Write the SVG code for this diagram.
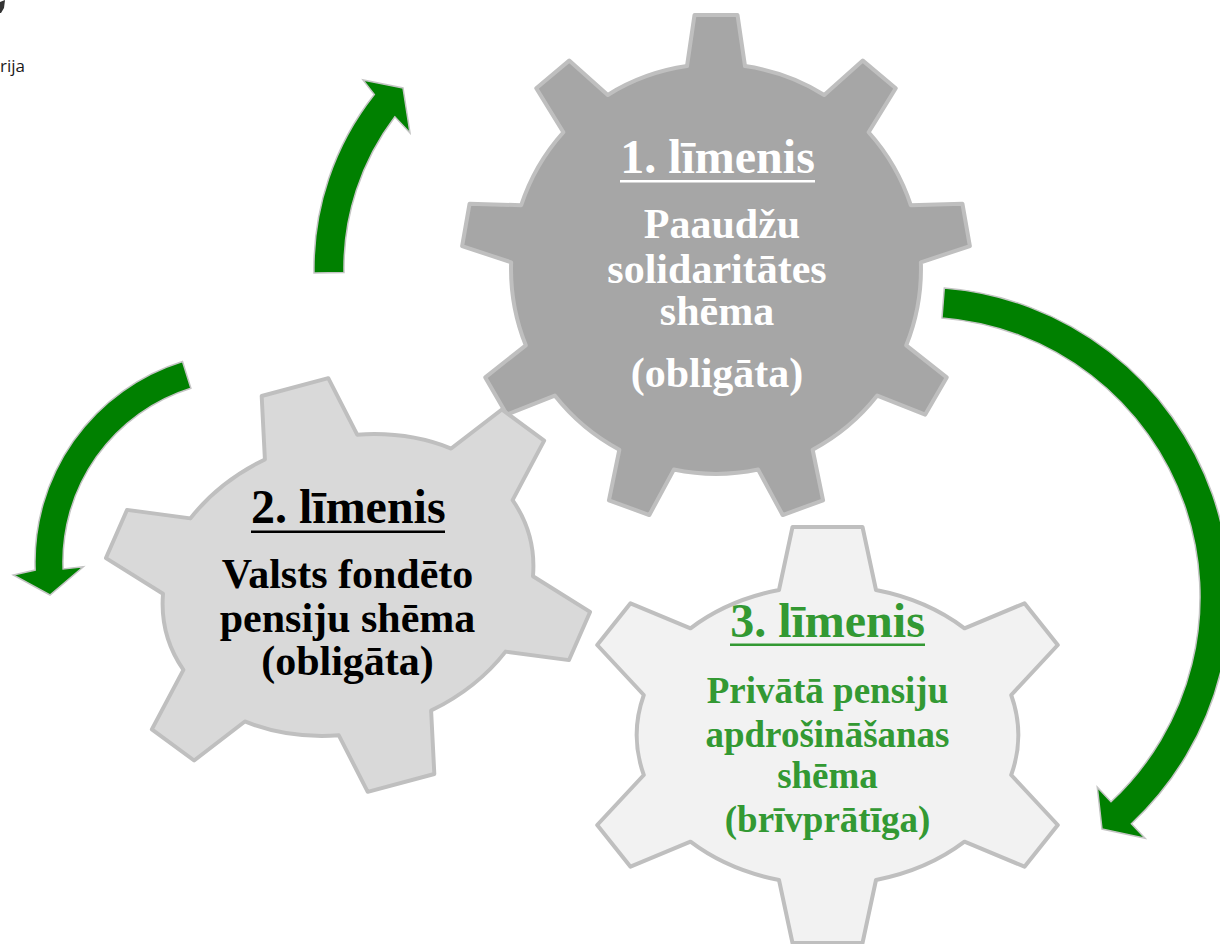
<svg xmlns="http://www.w3.org/2000/svg" width="1220" height="944" viewBox="0 0 1220 944">
<defs>
<style>
.gear{stroke:#bfbfbf;stroke-width:4;stroke-linejoin:round}
.g1{fill:#a6a6a6}.g2{fill:#d9d9d9}.g3{fill:#f2f2f2}
.arrow{fill:#008000;stroke:#c4c4c4;stroke-width:1.5}
.t{font-family:"Liberation Serif","Times New Roman",serif;font-weight:bold;text-anchor:middle}
.h{font-size:48px}.b{font-size:42px}.s{font-size:37px}
.w{fill:#ffffff}.k{fill:#000000}.gr{fill:#339933}
.ul{stroke-width:2.6}
</style>
<path id="gear6" d="M -48.5,-145 L -35,-208 L 35,-208 L 48.5,-145 A 194 150 0 0 1 137,-106.7 L 197,-131.7 L 230.3,-90 L 183.7,-40 A 194 150 0 0 1 183.7,40 L 230.3,90 L 197,131.7 L 137,106.7 A 194 150 0 0 1 48.5,145 L 35,208 L -35,208 L -48.5,145 A 194 150 0 0 1 -137,106.7 L -197,131.7 L -230.3,90 L -183.7,40 A 194 150 0 0 1 -183.7,-40 L -230.3,-90 L -197,-131.7 L -137,-106.7 A 194 150 0 0 1 -48.5,-145 Z"/>
</defs>
<rect width="1220" height="944" fill="#ffffff"/>
<g id="header">
<path d="M0,2 L5,0 L4,8 L1,13 L0,13 Z" fill="#333333"/>
<text x="25" y="71.5" font-family="Open Sans, sans-serif" font-size="17" fill="#1a1a1a" text-anchor="end">rija</text>
</g>
<g id="connectors">
<path class="arrow" d="M 314,272.9 A 280 280 0 0 1 374.3,94.5 L 363,80 L 403,88 L 410,133 L 394.9,116.8 A 250 250 0 0 0 344,272.4 Z"/>
<path class="arrow" d="M 182.5,361.5 A 210 210 0 0 0 35.15,570.1 L 13.3,575 L 50,595 L 83.3,566.7 L 63.1,569 A 182 182 0 0 1 190.9,388.2 Z"/>
<path class="arrow" d="M 944.3,288 A 310 310 0 0 1 1131.4,823.7 L 1145.1,838.3 L 1102,829.1 L 1097.3,787.2 L 1111,801.8 A 280 280 0 0 0 942,317.9 Z"/>
</g>
<g id="gear1">
<path class="gear g1" transform="translate(716,269)" d="M -29,-202.9 L -21.5,-254 L 21.5,-254 L 29,-202.9 A 205 205 0 0 1 108.21,-174.07 L 146.8,-208.39 L 179.74,-180.75 L 152.64,-136.79 A 205 205 0 0 1 194.78,-63.79 L 246.41,-65.28 L 253.87,-22.94 L 204.86,-6.67 A 205 205 0 0 1 190.22,76.34 L 230.72,108.38 L 209.22,145.62 L 161.22,126.56 A 205 205 0 0 1 96.65,180.74 L 107.07,231.33 L 66.67,246.03 L 42.15,200.58 A 205 205 0 0 1 -42.15,200.58 L -66.67,246.03 L -107.07,231.33 L -96.65,180.74 A 205 205 0 0 1 -161.22,126.56 L -209.22,145.62 L -230.72,108.38 L -190.22,76.34 A 205 205 0 0 1 -204.86,-6.67 L -253.87,-22.94 L -246.41,-65.28 L -194.78,-63.79 A 205 205 0 0 1 -152.64,-136.79 L -179.74,-180.75 L -146.8,-208.39 L -108.21,-174.07 A 205 205 0 0 1 -29,-202.9 Z"/>
<text class="t h w" x="717.5" y="173">1. līmenis</text>
<line class="ul" x1="620" y1="181.3" x2="815" y2="181.3" stroke="#ffffff"/>
<text class="t b w" x="722" y="237.5">Paaudžu</text>
<text class="t b w" x="717" y="282.5">solidaritātes</text>
<text class="t b w" x="717" y="325">shēma</text>
<text class="t b w" x="717" y="386.7">(obligāta)</text>
</g>
<g id="gear2">
<use href="#gear6" class="gear g2" transform="translate(348,585) rotate(-15) scale(0.985)"/>
<text class="t h k" x="348.3" y="523.3">2. līmenis</text>
<line class="ul" x1="251" y1="531.7" x2="445" y2="531.7" stroke="#000000"/>
<text class="t b k" x="347.5" y="588.3">Valsts fondēto</text>
<text class="t b k" x="347.5" y="631.7">pensiju shēma</text>
<text class="t b k" x="347.5" y="675">(obligāta)</text>
</g>
<g id="gear3">
<use href="#gear6" class="gear g3" transform="translate(827.5,735)"/>
<text class="t h gr" x="827.5" y="636.7">3. līmenis</text>
<line class="ul" x1="730" y1="644.7" x2="925" y2="644.7" stroke="#339933"/>
<text class="t s gr" x="827.5" y="703.3">Privātā pensiju</text>
<text class="t s gr" x="827.5" y="746.7">apdrošināšanas</text>
<text class="t s gr" x="827.5" y="788.3">shēma</text>
<text class="t s gr" x="827.5" y="831.7">(brīvprātīga)</text>
</g>
</svg>
